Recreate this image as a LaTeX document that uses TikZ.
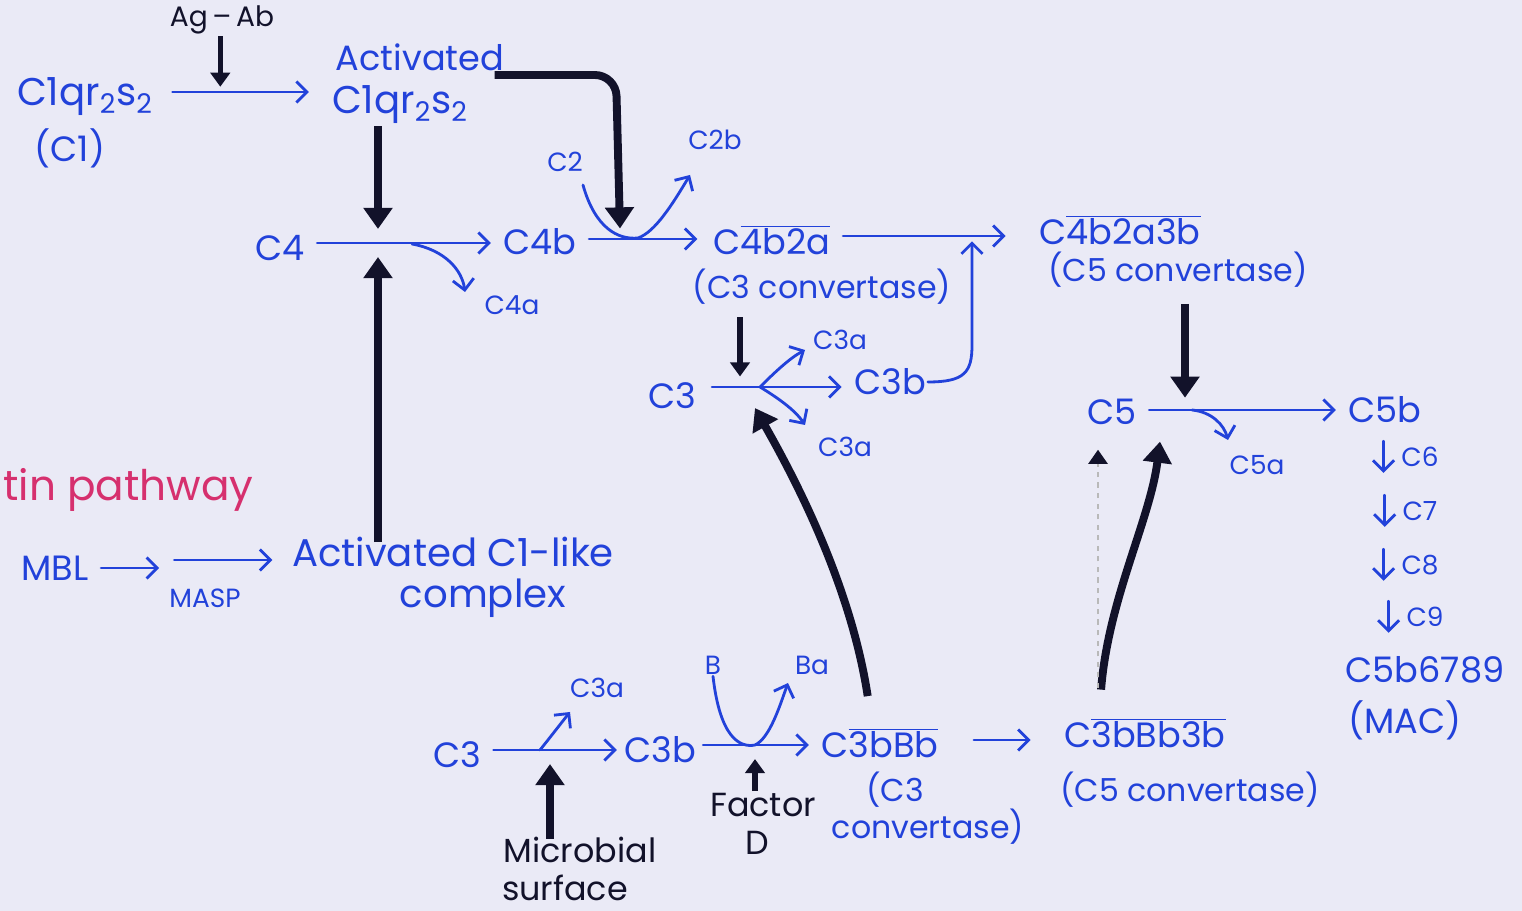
\documentclass[tikz,border=0pt]{standalone}
\usepackage{fontspec}
\setmainfont{Poppins}
\usetikzlibrary{arrows.meta}
\definecolor{ink}{RGB}{34,66,218}
\definecolor{blk}{RGB}{18,18,42}
\definecolor{pnk}{RGB}{214,48,110}
\definecolor{paper}{RGB}{234,234,246}
\newcommand\myol[1]{\ensuremath{\overline{\mbox{#1}}}}
\tikzset{
  lab/.style={text=ink, font=\fontsize{20}{22}\selectfont, inner sep=1pt},
  big/.style={text=ink, font=\fontsize{22}{24}\selectfont, inner sep=1pt},
  mid/.style={text=ink, font=\fontsize{18}{20}\selectfont, inner sep=1pt},
  sm/.style={text=ink, font=\fontsize{15}{17}\selectfont, inner sep=1pt},
  blab/.style={text=blk, font=\fontsize{16}{18}\selectfont, inner sep=1pt},
  bblab/.style={text=blk, font=\fontsize{19}{21}\selectfont, inner sep=1pt},
  bl/.style={draw=ink, line width=1.6pt, line cap=round, -{Straight Barb[length=6pt,width=12pt]}},
  bk/.style={draw=blk, line width=4.5pt, -{Triangle[length=12pt,width=16pt]}},
  bks/.style={draw=blk, line width=3pt, -{Triangle[length=8pt,width=11pt]}},
}
\begin{document}
\begin{tikzpicture}[x=0.02cm,y=-0.02cm]
\fill[paper] (0,0) rectangle (1522,911);
\useasboundingbox (0,0) rectangle (1522,911);

% ---- classical top ----
\node[blab] (agab) at (222,20) {Ag\,–\,Ab};
\node[big] (c1) at (85,97) {C1qr\textsubscript{2}s\textsubscript{2}};
\node[lab] (c1p) at (70,148) {(C1)};
\node[lab] (act1) at (420,57) {Activated};
\node[big] (act2) at (400,105) {C1qr\textsubscript{2}s\textsubscript{2}};
\draw[bl] (c1.east |- 0,92) ++(10pt,0) coordinate (a0s) -- ([xshift=-12pt]act2.west |- a0s) coordinate (a0e);
\path (a0s) -- (a0e) coordinate[pos=0.35] (r0);
\draw[bks] (agab.south -| r0) -- ([yshift=3pt]r0);

\node[lab] (c4) at (280,248) {C4};
\node[lab] (c4b) at (540,242) {C4b};
\node[sm] (c4a) at (512,305) {C4a};
\coordinate (r1) at (378,243);
\draw[bl] ([xshift=6pt]c4.east |- r1) -- ([xshift=-6pt]c4b.west |- r1);
\draw[bl] (412,244) .. controls (445,250) and (462,270) .. (465,292);
\draw[bk] (act2.south -| r1) -- ([yshift=8pt]r1);

% C2 step
\node[sm] (c2) at (565,162) {C2};
\node[sm] (c2b) at (715,140) {C2b};
\node[lab] (c4b2a) at (772,240) {C\myol{4b2a}};
\node[mid] (c3conv) at (822,287) {(C3 convertase)};
\coordinate (r2) at (620,239);
\draw[bl] ([xshift=6pt]c4b.east |- r2) -- ([xshift=-8pt]c4b2a.west |- r2);
\draw[bl] (583,185) .. controls (595,228) and (618,240) .. (638,238) .. controls (655,232) and (672,205) .. (690,175);
\draw[bk, rounded corners=12pt] (act2.east |- 0,75) ++(14pt,0) -- (616,75) -- ([yshift=6pt]r2);

\node[lab] (c4b2a3b) at (1120,230) {C\myol{4b2a3b}};
\node[mid] (c5conv) at (1178,270) {(C5 convertase)};
\coordinate (r3) at (972,236);
\draw[bl] ([xshift=6pt]c4b2a.east |- r3) -- ([xshift=-18pt]c4b2a3b.west |- r3);

% C3 cleavage
\node[lab] (c3) at (672,396) {C3};
\node[lab] (c3b) at (890,382) {C3b};
\node[sm] (c3a1) at (840,340) {C3a};
\node[sm] (c3a2) at (845,447) {C3a};
\coordinate (r4) at (740,387);
\draw[bl] ([xshift=8pt]c3.east |- r4) -- ([xshift=-6pt]c3b.west |- r4);
\draw[bl] (760,387) .. controls (775,372) and (790,358) .. (805,350);
\draw[bl] (760,387) .. controls (778,398) and (795,410) .. (805,425);
\draw[bks] (c3conv.south -| r4) ++(0,-6pt) -- ([yshift=6pt]r4);
\draw[bl] (c3b.east) .. controls (965,382) and (972,372) .. (972,345) -- ([yshift=-3pt]r3);

% C5 cleavage
\node[lab] (c5) at (1112,412) {C5};
\node[lab] (c5b) at (1385,410) {C5b};
\node[sm] (c5a) at (1257,465) {C5a};
\coordinate (r5) at (1185,410);
\draw[bl] ([xshift=6pt]c5.east |- r5) -- ([xshift=-6pt]c5b.west |- r5);
\draw[bl] (1192,410) .. controls (1212,412) and (1224,425) .. (1228,440);
\draw[bk] (c5conv.south -| r5) ++(0,-8pt) -- ([yshift=7pt]r5);

% terminal components
\node[sm] (c6) at (1420,457) {C6};
\node[sm] (c7) at (1420,511) {C7};
\node[sm] (c8) at (1420,565) {C8};
\node[sm] (c9) at (1425,617) {C9};
\node[lab] (mac1) at (1425,670) {C5b6789};
\node[lab] (mac2) at (1405,720) {(MAC)};
\foreach \n in {c6,c7,c8,c9}
  \draw[bl] ([xshift=-9pt,yshift=9pt]\n.west) -- ([xshift=-9pt,yshift=-9pt]\n.west);

% lectin pathway
\node[text=pnk, font=\fontsize{24}{26}\selectfont, anchor=west, inner sep=0pt] (lect) at (3,490) {tin pathway};
\node[lab] (mbl) at (55,568) {MBL};
\node[sm] (masp) at (205,598) {MASP};
\node[big, anchor=west] (actc) at (290,552) {Activated C1-like};
\node[big] (cplx) at (483,598) {complex};
\draw[bl] ([xshift=6pt]mbl.east) -- ++(58,0);
\draw[bl] (masp.west |- 0,560) ++(4pt,0) -- ([xshift=-10pt]actc.west |- 0,560);
\draw[bk] (actc.north -| r1) ++(0,-4pt) -- ([yshift=-8pt]r1);

% alternative pathway
\node[lab] (c3l) at (457,755) {C3};
\node[lab] (c3bl) at (660,750) {C3b};
\node[sm] (c3al) at (597,688) {C3a};
\node[bblab] (micro) at (580,850) {Microbial};
\node[bblab] (surf) at (565,888) {surface};
\coordinate (r6) at (550,750);
\draw[bl] ([xshift=6pt]c3l.east |- r6) -- ([xshift=-3pt]c3bl.west |- r6);
\draw[bl] (540,750) .. controls (552,735) and (562,722) .. (570,712);
\draw[bk] ([yshift=-2pt]micro.north -| r6) -- ([yshift=-8pt]r6);

\node[sm] (B) at (713,665) {B};
\node[sm] (Ba) at (812,665) {Ba};
\node[bblab] (fac) at (763,805) {Factor};
\node[bblab] (facD) at (757,843) {D};
\node[lab] (c3bbb) at (880,743) {C\myol{3bBb}};
\node[mid] (cv1) at (895,790) {(C3};
\node[mid] (cv2) at (928,827) {convertase)};
\coordinate (r7) at (755,745);
\draw[bl] ([xshift=3pt]c3bl.east |- r7) -- ([xshift=-6pt]c3bbb.west |- r7);
\draw[bl] (B.south) .. controls (720,738) and (740,748) .. (755,745) .. controls (770,738) and (780,705) .. (788,683);
\draw[bks] (fac.north -| r7) -- ([yshift=-8pt]r7);

\node[lab] (c3bbb3b) at (1145,733) {C\myol{3bBb3b}};
\node[mid] (c5conv2) at (1190,790) {(C5 convertase)};
\draw[bl] ([xshift=19pt]c3bbb.east |- 0,740) -- ([xshift=-18pt]c3bbb3b.west |- 0,740);

% long black connectors
\draw[bk] ([xshift=-7pt,yshift=17pt]c3bbb.north) .. controls (850,580) and (790,470) .. ([yshift=-12pt]r4 -| 755,0);
\draw[bk] ([xshift=-25pt,yshift=15pt]c3bbb3b.north) .. controls (1108,600) and (1150,520) .. ([yshift=-18pt]r5 -| 1160,0);
\coordinate (dz) at (1098,688);
\draw[draw=gray!55, line width=0.8pt, dashed, -{Triangle[length=8pt,width=11pt,color=blk]}] (dz) -- ([yshift=-13pt]c5.south west -| dz);
\end{tikzpicture}
\end{document}
